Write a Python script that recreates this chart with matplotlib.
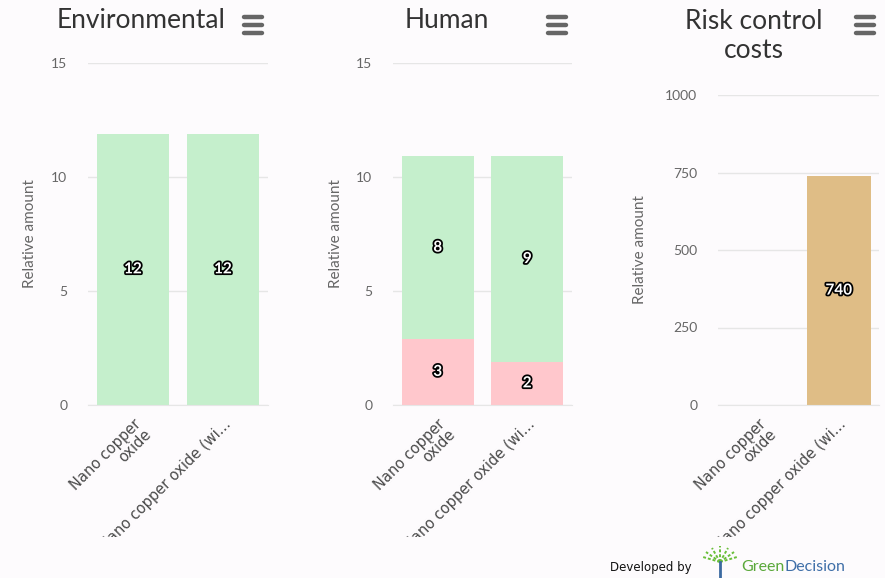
import matplotlib
matplotlib.use("Agg")
import matplotlib.pyplot as plt
from matplotlib import patheffects
from matplotlib.transforms import Bbox
from matplotlib.lines import Line2D

plt.rcParams["font.family"] = ["Lato", "DejaVu Sans"]

categories = ["Nano copper\noxide", "Nano copper oxide (wi..."]

env_values = [11.9, 11.9]

human_red = [2.9, 1.9]
human_green = [8.0, 9.0]

risk_values = [0, 738]

GREEN = "#c5efcc"
PINK = "#ffc7cc"
TAN = "#dfbd86"
BG = "#fdfbfd"
W, H = 885, 578


def round_label(v):
    # two significant figures, like the data labels in the picture
    if v >= 100:
        return str(int(round(v, -1)))
    return str(int(round(v)))


def add_label(ax, x, y, v):
    ax.text(x, y, round_label(v), ha="center", va="center", fontsize=11,
            fontweight="bold", color="white", zorder=5,
            path_effects=[patheffects.withStroke(linewidth=2.5, foreground="black")])


def style_axes(ax, ymax, ticks, label_x):
    ax.set_facecolor(BG)
    ax.set_ylim(0, ymax)
    ax.set_xlim(-0.5, 1.5)
    ax.set_yticks(ticks)
    ax.grid(axis="y", color="#e6e6e6", linewidth=1)
    ax.set_axisbelow(True)
    for s in ["top", "right", "left"]:
        ax.spines[s].set_visible(False)
    ax.spines["bottom"].set_color("#e6e6e6")
    ax.tick_params(axis="y", length=0, pad=15, labelsize=10, labelcolor="#666666")
    ax.tick_params(axis="x", length=0, pad=8)
    ax.set_xticks([0, 1])
    ax.set_xticklabels(categories, rotation=45, ha="right", rotation_mode="anchor",
                       fontsize=10.5, fontweight="normal", color="#4a4a4a",
                       family="DejaVu Sans", linespacing=0.95)
    clip = Bbox.from_extents(0, H - 537, W, H)
    for lbl in ax.get_xticklabels():
        lbl.set_clip_box(clip)
        lbl.set_clip_on(True)
    ax.set_ylabel("Relative amount", fontsize=11, color="#666666")
    ax.yaxis.set_label_coords(label_x, 0.5)


def menu_icon(fig, x, y):
    for dy in (-8, 0, 8):
        fig.add_artist(Line2D([(x - 9) / W, (x + 9) / W], [(H - y - dy) / H] * 2,
                              color="#666666", linewidth=3.2, solid_capstyle="round"))


fig = plt.figure(figsize=(W / 100, H / 100), dpi=100, facecolor=BG)

# Environmental
ax1 = fig.add_axes([88 / W, (H - 405) / H, 180 / W, 342 / H])
ax1.bar([0, 1], env_values, width=0.8, color=GREEN)
for i, v in enumerate(env_values):
    add_label(ax1, i, v / 2, v)
style_axes(ax1, 15, [0, 5, 10, 15], -0.283)

# Human
ax2 = fig.add_axes([393 / W, (H - 405) / H, 179 / W, 342 / H])
ax2.bar([0, 1], human_red, width=0.8, color=PINK)
ax2.bar([0, 1], human_green, width=0.8, bottom=human_red, color=GREEN)
for i in range(2):
    add_label(ax2, i, human_red[i] / 2, human_red[i])
    add_label(ax2, i, human_red[i] + human_green[i] / 2, human_green[i])
style_axes(ax2, 15, [0, 5, 10, 15], -0.279)

# Risk control costs
ax3 = fig.add_axes([718 / W, (H - 405) / H, 161 / W, 310 / H])
ax3.bar([0, 1], risk_values, width=0.8, color=TAN)
for i, v in enumerate(risk_values):
    if v > 0:
        add_label(ax3, i, v / 2, v)
style_axes(ax3, 1000, [0, 250, 500, 750, 1000], -0.441)

title_kw = dict(ha="center", va="center", fontsize=19, color="#333333")
fig.text(141 / W, (H - 20) / H, "Environmental", **title_kw)
fig.text(447 / W, (H - 20) / H, "Human", **title_kw)
fig.text(754 / W, (H - 36) / H, "Risk control\ncosts", linespacing=1.2, **title_kw)

menu_icon(fig, 253, 25)
menu_icon(fig, 557, 25)
menu_icon(fig, 865, 25)

# footer
fig.text(610 / W, (H - 568) / H, "Developed by", fontsize=8.5, color="#111111",
         va="center", family="DejaVu Sans")
tx, ty = 720, 562
for dx, dy in [(-17, 5), (-14, 10), (-8, 14), (0, 16), (8, 14), (14, 10), (17, 5)]:
    fig.add_artist(Line2D([tx / W, (tx + dx) / W], [(H - ty) / H, (H - ty + dy) / H],
                          color="#6abf3a", linewidth=1.4, linestyle=(0, (1.5, 1))))
fig.add_artist(Line2D([tx / W, tx / W], [(H - ty) / H, (H - 577) / H],
                      color="#3b6aa0", linewidth=2))
g = fig.text(741 / W, (H - 567) / H, "Green", fontsize=11.5, color="#5aa83a", va="center")
renderer = fig.canvas.get_renderer()
gx1 = g.get_window_extent(renderer).x1
fig.text(gx1 / W, (H - 567) / H, "Decision", fontsize=11.5, color="#3f6fa8", va="center")

fig.savefig("out.png", dpi=100, facecolor=BG)
